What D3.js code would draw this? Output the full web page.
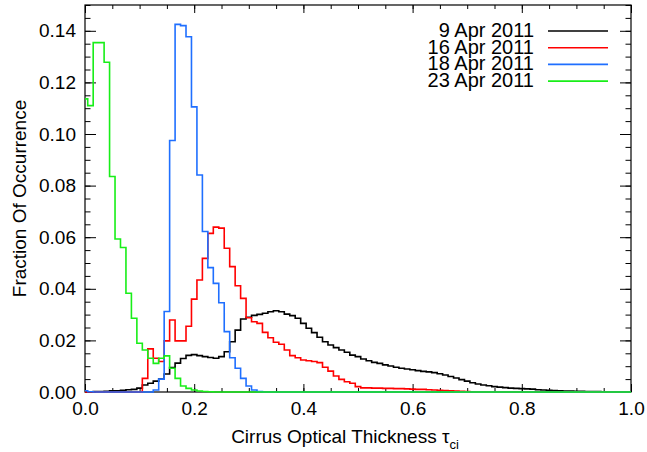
<!DOCTYPE html>
<html>
<head>
<meta charset="utf-8">
<script src="https://cdn.jsdelivr.net/npm/d3@7/dist/d3.min.js"></script>
<style>
  body { margin: 0; background: #fff; }
  svg text { font-family: "Liberation Sans", Arial, Helvetica, sans-serif; fill: #000; }
</style>
</head>
<body>
<svg id="chart" width="647" height="452"></svg>
<script>
// Histogram bin centres (cirrus optical thickness)
const tau = [
  0.00,0.01,0.02,0.03,0.04,0.05,0.06,0.07,0.08,0.09,
  0.10,0.11,0.12,0.13,0.14,0.15,0.16,0.17,0.18,0.19,
  0.20,0.21,0.22,0.23,0.24,0.25,0.26,0.27,0.28,0.29,
  0.30,0.31,0.32,0.33,0.34,0.35,0.36,0.37,0.38,0.39,
  0.40,0.41,0.42,0.43,0.44,0.45,0.46,0.47,0.48,0.49,
  0.50,0.51,0.52,0.53,0.54,0.55,0.56,0.57,0.58,0.59,
  0.60,0.61,0.62,0.63,0.64,0.65,0.66,0.67,0.68,0.69,
  0.70,0.71,0.72,0.73,0.74,0.75,0.76,0.77,0.78,0.79,
  0.80,0.81,0.82,0.83,0.84,0.85,0.86,0.87,0.88,0.89,
  0.90,0.91,0.92,0.93,0.94,0.95,0.96,0.97,0.98,0.99,
  1.00
];

// Fraction of occurrence per bin, one array per day
const apr09 = [
  0.0001,0.0001,0.0002,0.0002,0.0003,0.0005,0.0005,0.0007,0.0009,0.0010,
  0.0015,0.0027,0.0034,0.0042,0.0050,0.0070,0.0095,0.0112,0.0130,0.0142,
  0.0145,0.0141,0.0137,0.0134,0.0131,0.0137,0.0156,0.0195,0.0240,0.0283,
  0.0290,0.0297,0.0301,0.0305,0.0311,0.0315,0.0311,0.0302,0.0296,0.0286,
  0.0266,0.0247,0.0230,0.0212,0.0195,0.0182,0.0172,0.0163,0.0154,0.0143,
  0.0137,0.0128,0.0121,0.0115,0.0111,0.0105,0.0101,0.0096,0.0092,0.0089,
  0.0086,0.0083,0.0080,0.0078,0.0075,0.0071,0.0066,0.0060,0.0054,0.0048,
  0.0042,0.0036,0.0031,0.0027,0.0024,0.0021,0.0019,0.0017,0.0015,0.0014,
  0.0013,0.0012,0.0011,0.0009,0.0008,0.0007,0.0006,0.0005,0.0004,0.0004,
  0.0003,0.0003,0.0002,0.0002,0.0002,0.0001,0.0001,0.0001,0.0001,0.0001,
  0.0000
];
const apr16 = [
  0,0,0,0,0,0,0,0,0,0,
  0,0.0053,0.0167,0.0131,0.0118,0.0198,0.0279,0.0198,0.0198,0.0255,
  0.0360,0.0434,0.0518,0.0615,0.0639,0.0635,0.0557,0.0486,0.0412,0.0363,
  0.0288,0.0272,0.0266,0.0231,0.0210,0.0193,0.0185,0.0163,0.0141,0.0133,
  0.0124,0.0121,0.0118,0.0114,0.0096,0.0081,0.0062,0.0049,0.0040,0.0034,
  0.0021,0.0016,0.0016,0.0015,0.0015,0.0014,0.0014,0.0013,0.0013,0.0012,
  0.0011,0.0010,0.0010,0.0009,0.0008,0.0007,0.0006,0.0005,0.0004,0.0003,
  0.0002,0.0001,0,0,0,0,0,0,0,0,
  0,0,0,0,0,0,0,0,0,0,
  0,0,0,0,0,0,0,0,0,0,
  0
];
const apr18 = [
  0.0005,0.0001,0,0,0,0,0,0,0,0,
  0,0,0,0.0008,0.0050,0.0312,0.0975,0.1425,0.1420,0.1377,
  0.1105,0.0841,0.0622,0.0482,0.0421,0.0346,0.0234,0.0133,0.0092,0.0053,
  0.0023,0.0008,0.0002,0,0,0,0,0,0,0,
  0,0,0,0,0,0,0,0,0,0,
  0,0,0,0,0,0,0,0,0,0,
  0,0,0,0,0,0,0,0,0,0,
  0,0,0,0,0,0,0,0,0,0,
  0,0,0,0,0,0,0,0,0,0,
  0,0,0,0,0,0,0,0,0,0,
  0
];
const apr23 = [
  0.1136,0.1110,0.1354,0.1354,0.1278,0.0835,0.0593,0.0560,0.0383,0.0286,
  0.0189,0.0163,0.0131,0.0111,0.0131,0.0140,0.0092,0.0053,0.0023,0.0014,
  0.0008,0.0004,0.0002,0.0001,0,0,0,0,0,0,
  0,0,0,0,0,0,0,0,0,0,
  0,0,0,0,0,0,0,0,0,0,
  0,0,0,0,0,0,0,0,0,0,
  0,0,0,0,0,0,0,0,0,0,
  0,0,0,0,0,0,0,0,0,0,
  0,0,0,0,0,0,0,0,0,0,
  0,0,0,0,0,0,0,0,0,0,
  0
];

const seriesNames  = ["9 Apr 2011", "16 Apr 2011", "18 Apr 2011", "23 Apr 2011"];
const seriesColors = ["#000000", "#ff0000", "#1f6fff", "#18ee18"];
const seriesValues = [apr09, apr16, apr18, apr23];

const xMajorTicks = [0, 0.2, 0.4, 0.6, 0.8, 1.0];
const yMajorTicks = [0, 0.02, 0.04, 0.06, 0.08, 0.10, 0.12, 0.14];

const svg = d3.select("#chart");
const plotL = 85, plotR = 631, plotT = 5, plotB = 392;

const x = d3.scaleLinear().domain([0, 1]).range([plotL, plotR]);
const y = d3.scaleLinear().domain([0, 0.15]).range([plotB, plotT]);

const xMinor = d3.range(0, 1.0001, 0.05);
const yMinor = d3.range(0, 0.15001, 0.005);

const fontSize = 19;
const axes = svg.append("g");

// bottom axis (ticks point inward)
axes.append("g").attr("transform", `translate(0,${plotB})`)
  .call(d3.axisBottom(x).tickValues(xMinor).tickSize(-4).tickFormat(""))
  .call(g => g.select(".domain").remove());
axes.append("g").attr("transform", `translate(0,${plotB})`)
  .call(d3.axisBottom(x).tickValues(xMajorTicks).tickSizeInner(-8).tickSizeOuter(0)
        .tickPadding(10).tickFormat(d3.format(".1f")))
  .call(g => g.select(".domain").remove());

// top axis
axes.append("g").attr("transform", `translate(0,${plotT})`)
  .call(d3.axisTop(x).tickValues(xMinor).tickSize(-4).tickFormat(""))
  .call(g => g.select(".domain").remove());
axes.append("g").attr("transform", `translate(0,${plotT})`)
  .call(d3.axisTop(x).tickValues(xMajorTicks).tickSize(-8).tickFormat(""))
  .call(g => g.select(".domain").remove());

// left axis
axes.append("g").attr("transform", `translate(${plotL},0)`)
  .call(d3.axisLeft(y).tickValues(yMinor).tickSize(-5.5).tickFormat(""))
  .call(g => g.select(".domain").remove());
axes.append("g").attr("transform", `translate(${plotL},0)`)
  .call(d3.axisLeft(y).tickValues(yMajorTicks).tickSizeInner(-11).tickSizeOuter(0)
        .tickPadding(9).tickFormat(d3.format(".2f")))
  .call(g => g.select(".domain").remove());

// right axis
axes.append("g").attr("transform", `translate(${plotR},0)`)
  .call(d3.axisRight(y).tickValues(yMinor).tickSize(-5.5).tickFormat(""))
  .call(g => g.select(".domain").remove());
axes.append("g").attr("transform", `translate(${plotR},0)`)
  .call(d3.axisRight(y).tickValues(yMajorTicks).tickSize(-11).tickFormat(""))
  .call(g => g.select(".domain").remove());

axes.selectAll(".tick line").attr("stroke", "#000").attr("stroke-width", 1);
axes.selectAll(".tick text").attr("font-size", fontSize)
  .attr("font-family", "'Liberation Sans', Arial, sans-serif");

// plot frame
axes.append("rect")
  .attr("x", plotL).attr("y", plotT)
  .attr("width", plotR - plotL).attr("height", plotB - plotT)
  .attr("fill", "none").attr("stroke", "#000").attr("stroke-width", 1.2);

// step histograms
const line = d3.line()
  .x((d, i) => x(tau[i]))
  .y(d => y(d))
  .curve(d3.curveStep);

svg.append("g").selectAll("path")
  .data(seriesValues)
  .join("path")
  .attr("d", d => line(d))
  .attr("fill", "none")
  .attr("stroke", (d, i) => seriesColors[i])
  .attr("stroke-width", 1.6)
  .attr("stroke-linejoin", "miter");

// legend
const legend = svg.append("g");
const legY0 = 30, legDy = 16.7;
seriesNames.forEach((name, i) => {
  const yy = legY0 + i * legDy;
  legend.append("text")
    .attr("x", 534).attr("y", yy)
    .attr("dy", "0.35em")
    .attr("text-anchor", "end")
    .attr("font-size", 20)
    .text(name);
  legend.append("line")
    .attr("x1", 548).attr("x2", 608)
    .attr("y1", yy + 1).attr("y2", yy + 1)
    .attr("stroke", seriesColors[i])
    .attr("stroke-width", 1.6);
});

// axis titles
const xt = svg.append("text")
  .attr("x", 345).attr("y", 443)
  .attr("text-anchor", "middle")
  .attr("font-size", fontSize);
xt.append("tspan").text("Cirrus Optical Thickness \u03C4");
xt.append("tspan").attr("font-size", 13).attr("dy", 6).text("ci");

svg.append("text")
  .attr("transform", `translate(26,${(plotT + plotB) / 2}) rotate(-90)`)
  .attr("text-anchor", "middle")
  .attr("font-size", fontSize)
  .text("Fraction Of Occurrence");
</script>
</body>
</html>
